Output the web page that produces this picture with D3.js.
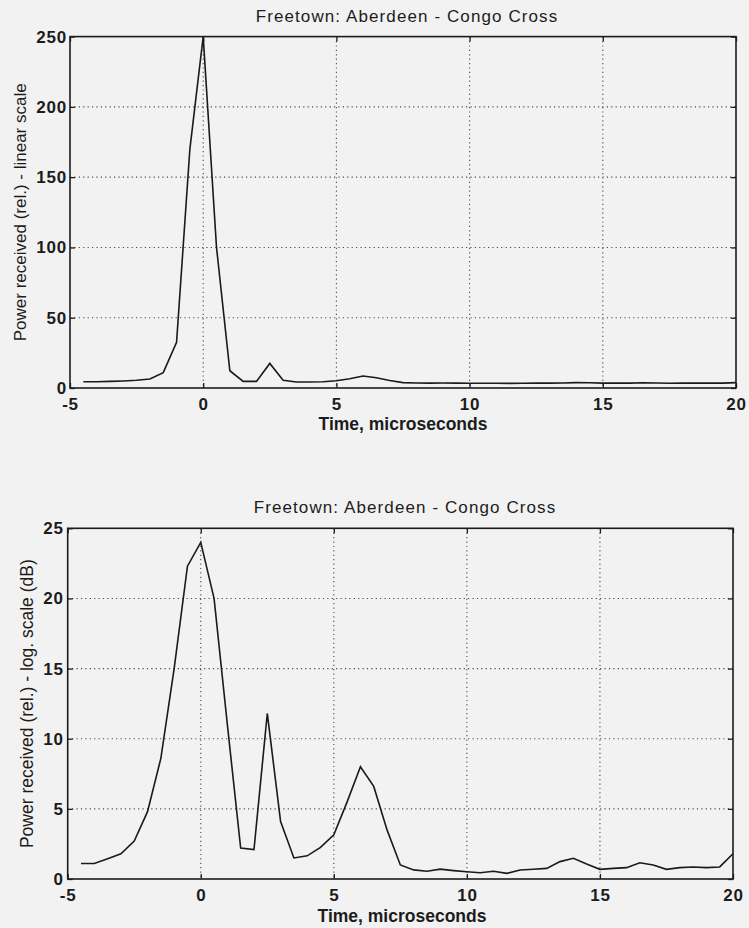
<!DOCTYPE html>
<html>
<head>
<meta charset="utf-8">
<script src="https://cdn.jsdelivr.net/npm/d3@7"></script>
<style>
  html, body { margin: 0; padding: 0; background: #f2f2f2; }
  svg { display: block; }
  text { font-family: "Liberation Sans", Arial, Helvetica, sans-serif; fill: #1c1c1c; }
</style>
</head>
<body>
<svg id="chart" width="749" height="928"></svg>
<script>
// Sample times of the impulse response, microseconds
const timeUs = [
  -4.5, -4.0, -3.5, -3.0, -2.5, -2.0, -1.5, -1.0, -0.5, 0.0,
   0.5,  1.0,  1.5,  2.0,  2.5,  3.0,  3.5,  4.0,  4.5, 5.0,
   5.5,  6.0,  6.5,  7.0,  7.5,  8.0,  8.5,  9.0,  9.5, 10.0,
  10.5, 11.0, 11.5, 12.0, 12.5, 13.0, 13.5, 14.0, 14.5, 15.0,
  15.5, 16.0, 16.5, 17.0, 17.5, 18.0, 18.5, 19.0, 19.5, 20.0
];

// Received power, relative, linear scale
const powerLinear = [
  4.5, 4.5, 4.7, 5.0, 5.5, 6.4, 10.9, 32.5, 170, 250,
  100, 12.3, 4.7, 4.7, 17.5, 5.5, 4.3, 4.3, 4.5, 5.2,
  6.6, 8.5, 7.3, 5.3, 3.8, 3.6, 3.5, 3.6, 3.5, 3.4,
  3.4, 3.4, 3.3, 3.4, 3.5, 3.5, 3.6, 3.8, 3.7, 3.5,
  3.5, 3.5, 3.7, 3.6, 3.4, 3.5, 3.5, 3.5, 3.5, 3.8
];

// Received power, relative, log scale (dB)
const powerDb = [
  1.1, 1.1, 1.45, 1.8, 2.7, 4.8, 8.6, 15.0, 22.3, 24.0,
  20.0, 11.0, 2.2, 2.1, 11.8, 4.1, 1.5, 1.65, 2.25, 3.15,
  5.5, 8.0, 6.6, 3.5, 1.0, 0.65, 0.55, 0.7, 0.6, 0.52,
  0.45, 0.55, 0.4, 0.64, 0.7, 0.76, 1.24, 1.48, 1.07, 0.69,
  0.76, 0.81, 1.16, 1.0, 0.69, 0.81, 0.86, 0.81, 0.86, 1.8
];

const xTicks = [-5, 0, 5, 10, 15, 20];
const yTicksLinear = [0, 50, 100, 150, 200, 250];
const yTicksDb = [0, 5, 10, 15, 20, 25];

const titleText = "Freetown: Aberdeen - Congo Cross";
const xLabelText = "Time, microseconds";

const svg = d3.select("#chart");

function drawPanel(p) {
  const x = d3.scaleLinear().domain([-5, 20]).range([p.left, p.right]);
  const y = d3.scaleLinear().domain(p.yDomain).range([p.bottom, p.top]);
  const g = svg.append("g");

  // dotted grid at interior ticks
  const grid = g.append("g")
    .attr("stroke", "#4a4a4a")
    .attr("stroke-width", 1.1)
    .attr("stroke-dasharray", "1.2,3.2");
  grid.selectAll("line.gx")
    .data(xTicks.filter(t => t > -5 && t < 20))
    .join("line")
    .attr("x1", d => x(d)).attr("x2", d => x(d))
    .attr("y1", p.top).attr("y2", p.bottom);
  grid.selectAll("line.gy")
    .data(p.yTicks.filter(t => t > p.yDomain[0] && t < p.yDomain[1]))
    .join("line")
    .attr("x1", p.left).attr("x2", p.right)
    .attr("y1", d => y(d)).attr("y2", d => y(d));

  // axes with inward ticks on all four sides; plain hyphen for negatives
  const tickLen = 5;
  const fmt = d => String(d);
  const axB = g.append("g").attr("transform", `translate(0,${p.bottom})`)
    .call(d3.axisBottom(x).tickValues(xTicks).tickSize(-tickLen)
      .tickPadding(p.xPad).tickFormat(fmt));
  const axL = g.append("g").attr("transform", `translate(${p.left},0)`)
    .call(d3.axisLeft(y).tickValues(p.yTicks).tickSize(-tickLen)
      .tickPadding(p.yPad).tickFormat(fmt));
  const axT = g.append("g").attr("transform", `translate(0,${p.top})`)
    .call(d3.axisTop(x).tickValues(xTicks).tickSize(-tickLen).tickFormat(""));
  const axR = g.append("g").attr("transform", `translate(${p.right},0)`)
    .call(d3.axisRight(y).tickValues(p.yTicks).tickSize(-tickLen).tickFormat(""));

  [axB, axL, axT, axR].forEach(a => {
    a.select(".domain").remove();
    a.selectAll(".tick line").attr("stroke", "#1c1c1c").attr("stroke-width", 1.3);
    a.selectAll(".tick text")
      .attr("fill", "#1c1c1c")
      .style("font-size", "17px")
      .style("font-weight", "bold")
      .style("letter-spacing", "0.8px")
      .style("font-family", "\"Liberation Sans\", Arial, sans-serif");
  });

  // frame
  g.append("rect")
    .attr("x", p.left).attr("y", p.top)
    .attr("width", p.right - p.left).attr("height", p.bottom - p.top)
    .attr("fill", "none").attr("stroke", "#1c1c1c").attr("stroke-width", 1.6);

  // data line
  const line = d3.line().x((d, i) => x(timeUs[i])).y(d => y(d));
  g.append("path")
    .datum(p.values)
    .attr("d", line)
    .attr("fill", "none")
    .attr("stroke", "#1a1a1a")
    .attr("stroke-width", 1.6)
    .attr("stroke-linejoin", "miter");

  // title and axis labels
  g.append("text")
    .attr("x", p.titleX).attr("y", p.titleY)
    .attr("text-anchor", "middle")
    .style("font-size", "17px")
    .style("letter-spacing", "1.1px")
    .text(titleText);
  g.append("text")
    .attr("x", p.xLabelX).attr("y", p.xLabelY)
    .attr("text-anchor", "middle")
    .style("font-size", "17.5px")
    .style("font-weight", "bold")
    .text(xLabelText);
  g.append("text")
    .attr("transform", `translate(${p.yLabelX},${(p.top + p.bottom) / 2}) rotate(-90)`)
    .attr("text-anchor", "middle")
    .style("font-size", p.yLabelSize)
    .text(p.yLabel);
}

drawPanel({
  left: 70, right: 736, top: 36.6, bottom: 388,
  yDomain: [0, 250], yTicks: yTicksLinear, values: powerLinear,
  xPad: 10, yPad: 3,
  titleX: 407, titleY: 22,
  xLabelX: 403, xLabelY: 430,
  yLabelX: 26, yLabelSize: "17px",
  yLabel: "Power received (rel.) - linear scale"
});

drawPanel({
  left: 67.7, right: 733, top: 528.3, bottom: 879,
  yDomain: [0, 25], yTicks: yTicksDb, values: powerDb,
  xPad: 10, yPad: 4,
  titleX: 405, titleY: 513,
  xLabelX: 402, xLabelY: 922,
  yLabelX: 33, yLabelSize: "17.5px",
  yLabel: "Power received (rel.) - log. scale (dB)"
});
</script>
</body>
</html>
